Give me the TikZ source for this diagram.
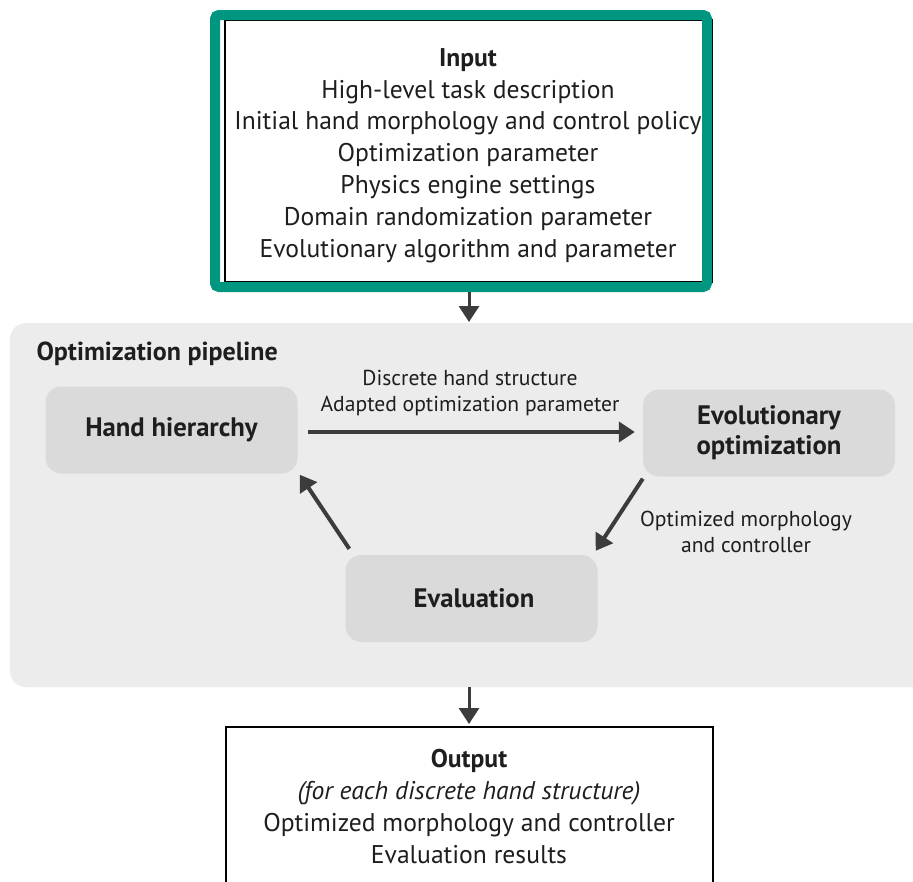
\documentclass[tikz,border=0pt]{standalone}
\usepackage{fontspec}
\setmainfont{PT Sans}
\usetikzlibrary{arrows.meta,calc}
\definecolor{teal1}{RGB}{0,150,128}
\definecolor{bgpipe}{RGB}{236,236,236}
\definecolor{boxfill}{RGB}{218,218,218}
\definecolor{arr}{RGB}{60,60,60}
\definecolor{txt}{RGB}{30,30,30}
\tikzset{
  stagebox/.style={draw=none,fill=boxfill,rounded corners=16pt,minimum width=252pt,minimum height=87pt,align=center,font=\fontsize{26.7}{30}\selectfont\bfseries,text=txt},
  flow/.style={draw=arr,line width=4pt,-{Triangle[length=16pt,width=20pt]}},
  lbl/.style={font=\fontsize{21.6}{25.5}\selectfont,text=txt,align=center},
  big/.style={font=\fontsize{25.6}{31.8}\selectfont,text=txt,align=center},
}
\begin{document}
\begin{tikzpicture}[x=1pt,y=-1pt]
\useasboundingbox (0,0) rectangle (913,881);
\fill[white] (0,0) rectangle (913,881);
% input box
\draw[black,line width=2pt] (225,20) rectangle (712,282);
\draw[teal1,line width=10pt,rounded corners=4pt] (215,15) rectangle (707,287);
\node[big] (in) at (468,155.5) {\textbf{Input}\\High-level task description\\Initial hand morphology and control policy\\Optimization parameter\\Physics engine settings\\Domain randomization parameter\\Evolutionary algorithm and parameter};
\coordinate (inb) at (469,292);
% pipeline
\fill[bgpipe,rounded corners=16pt] (10,323) rectangle (940,687);
\node[anchor=base west,font=\fontsize{26}{30}\selectfont\bfseries,text=txt] (ptitle) at (33,360) {Optimization pipeline};
\coordinate (pt) at (469,322);
\coordinate (pb) at (469,687);
\node[stagebox] (hh) at (171.5,430) {Hand hierarchy};
\node[stagebox] (eo) at (769,433) {Evolutionary\\optimization};
\node[stagebox] (ev) at (471.5,598.5) {\hspace*{5pt}Evaluation};
\draw[flow] ([xshift=10pt,yshift=-2pt]hh.east) -- ([xshift=-8pt,yshift=1pt]eo.west);
\node[lbl] (l1) at (470,393) {Discrete hand structure\\Adapted optimization parameter};
\draw[flow] ([yshift=-2pt]eo.south west) -- ([xshift=-2pt,yshift=4pt]ev.north east);
\node[lbl] (l2) at (746,532) {Optimized morphology\\and controller};
\draw[flow] ([xshift=4pt,yshift=6pt]ev.north west) -- ([xshift=2pt,yshift=-1pt]hh.south east);
% arrows in/out
\draw[flow,line width=3pt] (inb) -- (pt);
% output
\draw[black,line width=2pt] (226,727) rectangle (713,900);
\node[big] (out) at (469,806.5) {\textbf{Output}\\\textit{(for each discrete hand structure)}\\Optimized morphology and controller\\Evaluation results};
\coordinate (ot) at (469,724);
\draw[flow,line width=3pt] (pb) -- (ot);
\end{tikzpicture}
\end{document}
